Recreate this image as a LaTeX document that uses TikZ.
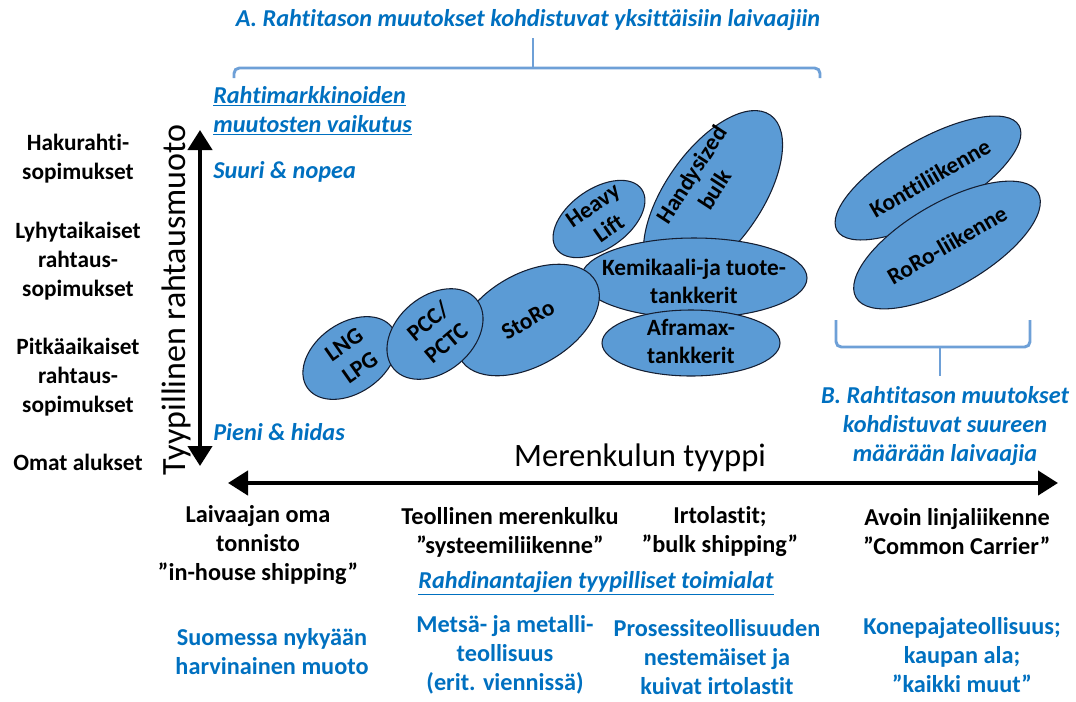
\documentclass[tikz,border=0pt]{standalone}
\usepackage{fontspec}
\setmainfont[Ligatures=NoCommon]{Carlito}
\usetikzlibrary{shapes.geometric,arrows.meta}
\definecolor{txtblue}{RGB}{0,112,192}
\definecolor{brkblue}{RGB}{110,160,215}
\definecolor{ellfill}{RGB}{91,155,213}
\definecolor{ellline}{RGB}{20,30,50}
\tikzset{
  lab/.style={font=\bfseries\fontsize{17.5}{21.75}\selectfont, align=center, inner sep=0pt},
  botlab/.style={font=\bfseries\fontsize{18.2}{21.75}\selectfont, align=center, inner sep=0pt},
  bluelab/.style={botlab, text=txtblue},
  blueit/.style={font=\bfseries\itshape\fontsize{18.2}{21.75}\selectfont, text=txtblue, inner sep=0pt},
  ell/.style={ellipse, draw=ellline, line width=0.8pt, fill=ellfill, inner sep=0pt},
  etxt/.style={font=\bfseries\fontsize{17.5}{21}\selectfont, align=center, inner sep=0pt},
  axis/.style={line width=3.2pt, {Triangle[width=18pt,length=15pt]}-{Triangle[width=18pt,length=15pt]}},
  brk/.style={draw=brkblue, line width=2.2pt, rounded corners=4pt},
}
\begin{document}
\begin{tikzpicture}[x=0.75pt,y=-0.75pt]
\useasboundingbox (0,0) rectangle (1076,701);

% Title and bracket A
\node[blueit] (titleA) at (528,20) {A. Rahtitason muutokset kohdistuvat yksittäisiin laivaajiin};
\draw[brk] (234,78) -- (234,68) -- (820,68) -- (820,78);
\coordinate (brkAtop) at (533,38);
\coordinate (brkAmid) at (533,68);
\draw[brk] (brkAmid) -- (brkAtop);

% Left labels
\node[lab] (hak) at (78,159) {Hakurahti-\\sopimukset};
\node[lab] (lyh) at (78,261) {Lyhytaikaiset\\rahtaus-\\sopimukset};
\node[lab] (pit) at (78,377) {Pitkäaikaiset\\rahtaus-\\sopimukset};
\node[lab] (oma) at (78,462) {Omat alukset};

% Vertical axis
\coordinate (vtop) at (200,130);
\coordinate (vbot) at (200,466);
\draw[axis] (vbot) -- (vtop);
\node[font=\fontsize{25.5}{28}\selectfont, rotate=90, inner sep=0pt] (ylab) at (176,300) {Tyypillinen rahtausmuoto};

\node[blueit, anchor=west, align=left] (rmv) at (213,111) {\underline{Rahtimarkkinoiden}\\\underline{muutosten vaikutus}};
\node[blueit, anchor=west] (suuri) at (213,172) {Suuri \& nopea};
\node[blueit, anchor=west] (pieni) at (213,432) {Pieni \& hidas};

% Ellipses
\node[ell, minimum width=150pt, minimum height=72pt, rotate=55] (handy) at (713,197) {};
\node[etxt, rotate=57] at (703,182) {Handysized\\bulk};
\node[ell, minimum width=169.5pt, minimum height=60pt] (kemi) at (694,278) {};
\node[etxt] at (694,281) {Kemikaali-ja tuote-\\tankkerit};
\node[ell, minimum width=117pt, minimum height=69pt, rotate=30] (storo) at (528,320) {};
\node[etxt, rotate=30] at (528,320) {StoRo};
\node[ell, minimum width=133.5pt, minimum height=49.5pt] (afra) at (691,343) {};
\node[etxt] at (691,341) {Aframax-\\tankkerit};
\node[ell, minimum width=78pt, minimum height=45pt, rotate=35] (heavy) at (599,219) {};
\node[etxt, rotate=35] at (601,217) {Heavy\\Lift};
\node[ell, minimum width=78pt, minimum height=52.5pt, rotate=35] (lng) at (350,358) {};
\node[etxt, rotate=35] at (352,356) {LNG\\LPG};
\node[ell, minimum width=81pt, minimum height=57pt, rotate=40] (pcc) at (435,334) {};
\node[etxt, rotate=40] at (437,332) {PCC/\\PCTC};
\node[ell, minimum width=157.5pt, minimum height=57pt, rotate=30] (kontti) at (928,178) {};
\node[etxt, rotate=30] at (930,178) {Konttiliikenne};
\node[ell, minimum width=157.5pt, minimum height=63pt, rotate=30] (roro) at (947,245) {};
\node[etxt, rotate=30] at (947,245) {RoRo-liikenne};

% Bracket B
\draw[brk] (836,320) -- (836,347) -- (1030,347) -- (1030,320);
\coordinate (brkBmid) at (940,347);
\coordinate (brkBbot) at (940,376);
\draw[brk] (brkBmid) -- (brkBbot);
\node[blueit, align=center] (labB) at (945,426) {B. Rahtitason muutokset\\kohdistuvat suureen\\määrään laivaajia};

% Horizontal axis
\node[font=\fontsize{24.5}{28}\selectfont, inner sep=0pt] (xlab) at (640,458) {Merenkulun tyyppi};
\coordinate (hleft) at (228,483);
\coordinate (hright) at (1058,483);
\draw[axis] (hleft) -- (hright);

% Bottom labels
\node[botlab] (b1) at (258,545) {Laivaajan oma\\tonnisto\\”in-house shipping”};
\node[botlab] (b2) at (510,532) {Teollinen merenkulku\\”systeemiliikenne”};
\node[botlab] (b3) at (720,532) {Irtolastit;\\”bulk shipping”};
\node[botlab] (b4) at (957,532) {Avoin linjaliikenne\\”Common Carrier”};

\node[blueit] (rtt) at (596,583) {\underline{Rahdinantajien tyypilliset toimialat}};

\node[bluelab] (c1) at (272,652) {Suomessa nykyään\\harvinainen muoto};
\node[bluelab] (c2) at (505,655) {Metsä- ja metalli-\\teollisuus\\(erit. viennissä)};
\node[bluelab] (c3) at (717,657) {Prosessiteollisuuden\\nestemäiset ja\\kuivat irtolastit};
\node[bluelab] (c4) at (962,655) {Konepajateollisuus;\\kaupan ala;\\”kaikki muut”};
\end{tikzpicture}
\end{document}
